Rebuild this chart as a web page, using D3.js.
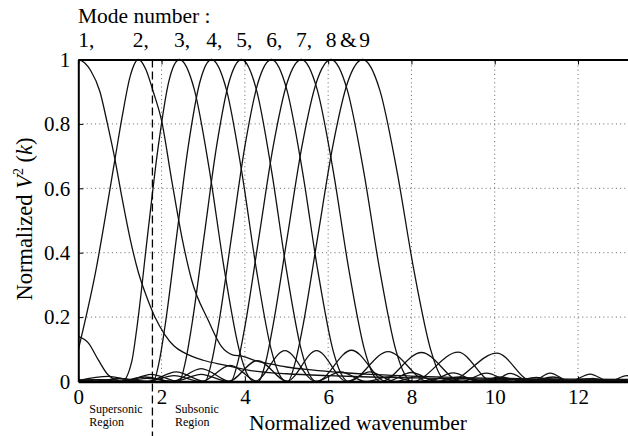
<!DOCTYPE html>
<html>
<head>
<meta charset="utf-8">
<script src="https://cdn.jsdelivr.net/npm/d3@7"></script>
<style>
  body { margin: 0; background: #fff; }
  svg { display: block; }
  svg text { font-family: "Liberation Serif", "Tinos", "Times New Roman", "DejaVu Serif", serif; fill: #000; }
</style>
</head>
<body>
<div id="chart"></div>
<script>
// normalized |V(k)|^2 per mode, [wavenumber, value]
const mode1 = [[0,1],[0.15,0.99],[0.3,0.965],[0.52,0.9],[0.7,0.8],[0.88,0.69],[1.05,0.57],[1.25,0.44],[1.44,0.34],[1.65,0.26],[1.84,0.2],[2.08,0.145],[2.3,0.11],[2.56,0.088],[3.0,0.066],[3.52,0.051],[4.24,0.032],[5,0.024],[6,0.018],[7,0.014],[8,0.011],[9,0.009],[10,0.007],[11.5,0.005],[13.4,0.004]];
const mode2 = [[0,0.098],[0.4,0.33],[0.88,0.69],[1.05,0.82],[1.25,0.95],[1.44,1],[1.62,0.97],[1.8,0.9],[2.0,0.81],[2.24,0.627],[2.5,0.44],[2.72,0.316],[3.12,0.19],[3.44,0.108],[3.7,0.083],[3.95,0.078],[4.25,0.065],[4.6,0.055],[5.0,0.045],[5.6,0.036],[6.3,0.028],[7.0,0.022],[8.0,0.017],[9.0,0.013],[10.0,0.01],[11.0,0.008],[12.0,0.007],[13.4,0.006]];
const mode3 = [[0,0.14],[0.24,0.12],[0.48,0.067],[0.72,0.02],[1.05,0],[1.28,0.06],[1.41,0.17],[1.66,0.45],[1.92,0.73],[2.17,0.93],[2.43,1],[2.79,0.905],[3.15,0.655],[3.51,0.345],[3.87,0.095],[4.05,0.024],[4.23,0],[4.96,0.096],[5.7,0],[6.3,0.03],[6.9,0],[7.5,0.015],[8.1,0],[8.7,0.009],[9.3,0],[9.9,0.006],[10.5,0],[11.1,0.004],[11.7,0],[12.3,0.003],[12.9,0],[13.4,0.002]];
const mode4 = [[0,0.003],[0.72,0.016],[1.45,0],[1.8,0],[1.94,0.06],[2.08,0.17],[2.36,0.45],[2.64,0.73],[2.92,0.93],[3.2,1],[3.56,0.905],[3.92,0.655],[4.28,0.345],[4.64,0.095],[4.82,0.024],[5.0,0],[5.72,0.096],[6.45,0],[7.0,0.03],[7.6,0],[8.15,0.015],[8.7,0],[9.3,0.009],[9.9,0],[10.5,0.006],[11.1,0],[11.7,0.004],[12.3,0],[12.9,0.003],[13.4,0]];
const mode5 = [[0,0],[0.5,0.006],[1.1,0],[1.75,0.022],[2.42,0],[2.57,0.06],[2.72,0.17],[3.02,0.45],[3.32,0.73],[3.62,0.93],[3.92,1],[4.28,0.905],[4.64,0.655],[5.0,0.345],[5.36,0.095],[5.54,0.024],[5.72,0],[6.56,0.097],[7.4,0],[8.0,0.028],[8.6,0],[9.15,0.014],[9.7,0],[10.3,0.008],[10.9,0],[11.5,0.005],[12.1,0],[12.7,0.003],[13.3,0]];
const mode6 = [[0,0.003],[0.35,0],[1.0,0.01],[1.65,0],[2.35,0.03],[3.04,0],[3.2,0.06],[3.36,0.17],[3.68,0.45],[4.0,0.73],[4.32,0.93],[4.64,1],[5.01,0.905],[5.38,0.655],[5.75,0.345],[6.12,0.095],[6.31,0.024],[6.49,0],[7.44,0.093],[8.4,0],[9.0,0.027],[9.6,0],[10.15,0.014],[10.7,0],[11.3,0.008],[11.9,0],[12.5,0.005],[13.1,0],[13.4,0.002]];
const mode7 = [[0,0.004],[0.4,0.006],[0.95,0],[1.6,0.014],[2.25,0],[2.95,0.04],[3.66,0],[3.83,0.06],[4.0,0.17],[4.34,0.45],[4.68,0.73],[5.02,0.93],[5.36,1],[5.74,0.905],[6.12,0.655],[6.5,0.345],[6.88,0.095],[7.07,0.024],[7.26,0],[8.24,0.09],[9.2,0],[9.8,0.026],[10.4,0],[11.0,0.013],[11.6,0],[12.2,0.008],[12.8,0],[13.3,0.005]];
const mode8 = [[0,0.004],[0.35,0],[1.0,0.008],[1.65,0],[2.3,0.018],[2.95,0],[3.65,0.05],[4.32,0],[4.5,0.06],[4.67,0.17],[5.02,0.45],[5.37,0.73],[5.72,0.93],[6.07,1],[6.46,0.905],[6.85,0.655],[7.24,0.345],[7.63,0.095],[7.83,0.024],[8.02,0],[9.12,0.091],[9.95,0],[10.37,0.025],[10.85,0],[11.4,0.014],[11.9,0],[12.35,0.01],[12.8,0],[13.25,0.007]];
const mode9 = [[0,0.004],[0.4,0.005],[1.0,0],[1.65,0.01],[2.3,0],[2.95,0.022],[3.6,0],[4.3,0.065],[5.03,0],[5.21,0.06],[5.39,0.17],[5.75,0.45],[6.11,0.73],[6.47,0.93],[6.83,1],[7.24,0.905],[7.65,0.655],[8.06,0.345],[8.47,0.095],[8.67,0.024],[8.88,0],[10.05,0.088],[10.9,0],[11.33,0.026],[11.8,0],[12.29,0.023],[12.75,0],[13.17,0.018],[13.6,0]];

const modes = [mode1, mode2, mode3, mode4, mode5, mode6, mode7, mode8, mode9];
const peaks = [0, 1.44, 2.43, 3.2, 3.92, 4.64, 5.36, 6.07, 6.83];
const modeLabels = ["1,", "2,", "3,", "4,", "5,", "6,", "7,"];
const xTicks = [0, 2, 4, 6, 8, 10, 12];
const yTicks = [0, 0.2, 0.4, 0.6, 0.8, 1];
const yTickLabels = ["0", "0.2", "0.4", "0.6", "0.8", "1"];
const sonicK = 1.78; // supersonic / subsonic boundary

const width = 628, height = 436;
const x = d3.scaleLinear().domain([0, 13.2]).range([78.3, 628]);
const y = d3.scaleLinear().domain([0, 1]).range([381.5, 59.5]);

const svg = d3.select("#chart").append("svg")
  .attr("width", width).attr("height", height);

svg.append("defs").append("clipPath").attr("id", "plot")
  .append("rect")
  .attr("x", x(0)).attr("y", y(1) - 4)
  .attr("width", width - x(0)).attr("height", y(0) - y(1) + 4);

// dotted grid
const grid = svg.append("g").attr("stroke", "#555").attr("stroke-width", 0.9)
  .attr("stroke-dasharray", "1,3.2");
grid.selectAll(".gx").data(xTicks.slice(1)).join("line")
  .attr("x1", d => x(d)).attr("x2", d => x(d))
  .attr("y1", y(0)).attr("y2", y(1));
grid.selectAll(".gy").data(yTicks.slice(1, -1)).join("line")
  .attr("x1", x(0)).attr("x2", width)
  .attr("y1", d => y(d)).attr("y2", d => y(d));

// mode curves
const line = d3.line()
  .x(d => x(d[0])).y(d => y(d[1]))
  .curve(d3.curveMonotoneX);
svg.append("g").attr("clip-path", "url(#plot)")
  .selectAll("path").data(modes).join("path")
  .attr("d", line)
  .attr("fill", "none").attr("stroke", "#111").attr("stroke-width", 1.3)
  .attr("stroke-linejoin", "round");

// sonic boundary
svg.append("line")
  .attr("x1", x(sonicK)).attr("x2", x(sonicK))
  .attr("y1", y(1)).attr("y2", height)
  .attr("stroke", "#000").attr("stroke-width", 1.3)
  .attr("stroke-dasharray", "8,4");

// axes (ticks pointing inward)
const xAxis = d3.axisBottom(x).tickValues(xTicks).tickSizeInner(-5).tickSizeOuter(0).tickPadding(8);
const xAxisTop = d3.axisTop(x).tickValues(xTicks).tickSizeInner(-5).tickSizeOuter(0).tickFormat("");
const yAxis = d3.axisLeft(y).tickValues(yTicks).tickSizeInner(-5).tickSizeOuter(0).tickPadding(8)
  .tickFormat((d, i) => yTickLabels[i]);

function styleAxis(g, w) {
  g.attr("font-family", null);
  g.select(".domain").attr("stroke", "#000").attr("stroke-width", w);
  g.selectAll(".tick line").attr("stroke", "#000").attr("stroke-width", 1);
  g.selectAll(".tick text").attr("font-size", 21).attr("fill", "#000");
}
svg.append("g").attr("transform", `translate(0,${y(0)})`).call(xAxis).call(g => styleAxis(g, 2.4));
svg.append("g").attr("transform", `translate(0,${y(1)})`).call(xAxisTop).call(g => styleAxis(g, 1.8));
svg.append("g").attr("transform", `translate(${x(0)},0)`).call(yAxis).call(g => styleAxis(g, 2));

// axis titles
svg.append("text")
  .attr("x", 358).attr("y", 430)
  .attr("text-anchor", "middle").attr("font-size", 21.5)
  .text("Normalized wavenumber");

const yTitle = svg.append("text")
  .attr("transform", "translate(32,219) rotate(-90)")
  .attr("text-anchor", "middle").attr("font-size", 22.5);
yTitle.append("tspan").text("Normalized ");
yTitle.append("tspan").attr("font-style", "italic").text("V");
yTitle.append("tspan").attr("font-size", 14).attr("dy", -9).text("2");
yTitle.append("tspan").attr("dy", 9).text(" (");
yTitle.append("tspan").attr("font-style", "italic").text("k");
yTitle.append("tspan").text(")");

// region notes
const regions = [["Supersonic", "Region", 0, 11], ["Subsonic", "Region", sonicK, 22.5]];
regions.forEach(([a, b, k, dx]) => {
  const t = svg.append("text").attr("font-size", 12)
    .attr("x", x(k) + dx).attr("y", 413);
  t.append("tspan").text(a);
  t.append("tspan").attr("x", x(k) + dx).attr("dy", 13).text(b);
});

// mode number labels
svg.append("text").attr("x", 78).attr("y", 23).attr("font-size", 21.5).text("Mode number :");
const lab = svg.append("g").attr("font-size", 21.5);
modeLabels.forEach((s, i) => {
  lab.append("text")
    .attr("x", i === 0 ? x(peaks[0]) : x(peaks[i]) - 5.4)
    .attr("y", 47).text(s);
});
lab.append("text").attr("x", x(peaks[7])).attr("y", 47).attr("text-anchor", "middle").text("8");
lab.append("text").attr("x", (x(peaks[7]) + x(peaks[8])) / 2 + 1.5).attr("y", 47).attr("text-anchor", "middle").text("&");
lab.append("text").attr("x", x(peaks[8]) + 2).attr("y", 47).attr("text-anchor", "middle").text("9");
</script>
</body>
</html>
